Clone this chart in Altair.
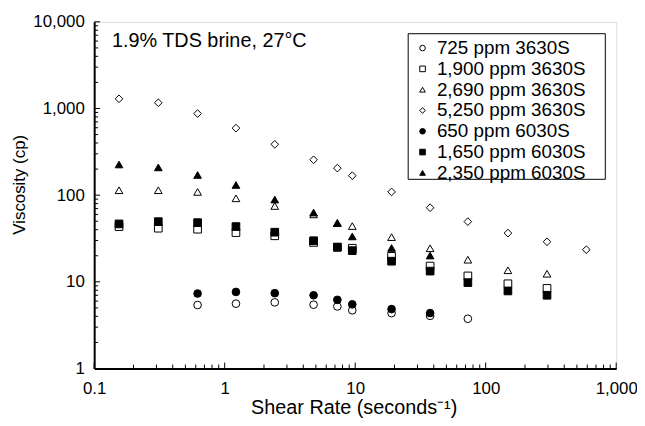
import altair as alt
import pandas as pd

rates = [0.155, 0.31, 0.62, 1.22, 2.42, 4.8, 7.3, 9.5, 19.0, 37.5, 73.0, 148.0, 295.0, 590.0]

series_names = [
    "725 ppm 3630S",
    "1,900 ppm 3630S",
    "2,690 ppm 3630S",
    "5,250 ppm 3630S",
    "650 ppm 6030S",
    "1,650 ppm 6030S",
    "2,350 ppm 6030S",
]
series_shapes = ["circle", "square", "triangle-up", "diamond", "circle", "square", "triangle-up"]
series_fills = ["white", "white", "white", "white", "black", "black", "black"]

v725 = [None, None, 5.4, 5.6, 5.8, 5.45, 5.2, 4.7, 4.35, 4.05, 3.75, None, None, None]
v1900 = [43.4, 41.6, 40.5, 37.0, 34.0, 28.5, 25.0, 24.4, 19.7, 15.2, 11.7, 9.5, 8.4, None]
v2690 = [114, 114, 109, 92, 75, 60, 48, 44, 32.8, 24.4, 18.0, 13.6, 12.4, None]
v5250 = [1294, 1165, 873, 594, 386, 256, 205, 168, 109, 71.6, 49.5, 36.5, 29.0, 23.5]
v650 = [None, None, 7.33, 7.65, 7.4, 7.0, 6.2, 5.5, 4.85, 4.36, None, None, None, None]
v1650 = [46.6, 49.5, 48.2, 43.4, 37.4, 29.8, 25.2, 22.9, 17.3, 13.3, 9.8, 7.85, 7.0, None]
v2350 = [226, 209, 171, 131, 89, 63, 47.5, 33.4, 24.6, 20.1, None, None, None, None]

all_values = [v725, v1900, v2690, v5250, v650, v1650, v2350]

x_major_ticks = [0.1, 1, 10, 100, 1000]
y_major_ticks = [1, 10, 100, 1000, 10000]
minor_steps = [2, 3, 4, 5, 6, 7, 8, 9]

annotation_text = ["1.9% TDS brine, 27°C"]
x_title = "Shear Rate (seconds⁻¹)"
y_title = "Viscosity (cp)"

rows = []
for i, (name, vals) in enumerate(zip(series_names, all_values)):
    for r, v in zip(rates, vals):
        if v is not None:
            rows.append({"series": name, "order": i, "rate": r, "visc": v})
df = pd.DataFrame(rows)

x_minor = pd.DataFrame({"v": [m * d for d in x_major_ticks[:-1] for m in minor_steps]})
y_minor = pd.DataFrame({"v": [m * d for d in y_major_ticks[:-1] for m in minor_steps]})
x_major = pd.DataFrame({"v": x_major_ticks})
y_major = pd.DataFrame({"v": y_major_ticks})

FONT = "Liberation Sans"
W, H = 527, 350

x_scale = alt.Scale(type="log", domain=[0.1, 1000], nice=False)
y_scale = alt.Scale(type="log", domain=[1, 10000], nice=False)

x_axis = alt.Axis(
    values=x_major_ticks,
    labelExpr="format(datum.value, ',')",
    ticks=False,
    tickSize=0,
    domainColor="black",
    domainWidth=2,
    labelPadding=12,
    labelFont=FONT,
    labelFontSize=17,
    labelColor="black",
    labelFlush=False,
    labelOverlap=False,
    grid=False,
    title=x_title,
    titleFont=FONT,
    titleFontSize=20,
    titleFontWeight="normal",
    titleColor="black",
    titleX=262,
    titleY=45,
    titleBaseline="alphabetic",
    titleAlign="center",
)
y_axis = alt.Axis(
    values=y_major_ticks,
    labelExpr="format(datum.value, ',')",
    ticks=False,
    tickSize=0,
    domainColor="black",
    domainWidth=2,
    labelPadding=10,
    labelFont=FONT,
    labelFontSize=17,
    labelColor="black",
    labelOverlap=False,
    labelFlush=False,
    grid=False,
    title=y_title,
    titleFont=FONT,
    titleFontSize=17,
    titleFontWeight="normal",
    titleColor="black",
    titleX=-75,
    titleY=164,
    titleAngle=-90,
    titleAlign="center",
    titleBaseline="middle",
)

legend = alt.Legend(
    title=None,
    orient="none",
    legendX=322,
    legendY=17,
    labelFont=FONT,
    labelFontSize=19,
    labelColor="black",
    symbolSize=32,
    symbolStrokeWidth=1,
    rowPadding=1,
    padding=0,
    labelOffset=5,
)

points = alt.Chart(df).mark_point(filled=True, size=60, strokeWidth=1, opacity=1).encode(
    x=alt.X("rate:Q", scale=x_scale, axis=x_axis),
    y=alt.Y("visc:Q", scale=y_scale, axis=y_axis),
    shape=alt.Shape("series:N", scale=alt.Scale(domain=series_names, range=series_shapes), legend=legend),
    fill=alt.Fill("series:N", scale=alt.Scale(domain=series_names, range=series_fills), legend=legend),
    stroke=alt.Stroke("series:N", scale=alt.Scale(domain=series_names, range=["black"] * 7), legend=legend),
    order=alt.Order("order:Q"),
)

def xtick_layer(data, length):
    return alt.Chart(data).mark_rule(color="black", strokeWidth=1).encode(
        x=alt.X("v:Q", scale=x_scale, axis=x_axis),
        y=alt.value(H),
        y2=alt.value(H - length),
    )

def ytick_layer(data, length):
    return alt.Chart(data).mark_rule(color="black", strokeWidth=1).encode(
        y=alt.Y("v:Q", scale=y_scale, axis=y_axis),
        x=alt.value(0),
        x2=alt.value(length),
    )

legend_box = alt.Chart(pd.DataFrame({"a": [0]})).mark_rect(
    fill="white", stroke="black", strokeWidth=1
).encode(x=alt.value(317), x2=alt.value(516), y=alt.value(12), y2=alt.value(159))

annot = alt.Chart(pd.DataFrame({"t": annotation_text})).mark_text(
    align="left", baseline="middle", font=FONT, fontSize=20, color="black"
).encode(x=alt.value(18), y=alt.value(19), text="t:N")

chart = alt.layer(
    points,
    legend_box,
    xtick_layer(x_minor, 4),
    xtick_layer(x_major, 6),
    ytick_layer(y_minor, 4),
    ytick_layer(y_major, 6),
    annot,
).properties(
    width=W,
    height=H,
    autosize=alt.AutoSizeParams(type="none"),
    padding={"left": 87, "top": 12, "right": 21, "bottom": 48},
).configure_view(
    stroke="black", strokeWidth=1
).configure(background="white")

chart.save("out.html", embed_options={"renderer": "svg", "actions": False})
